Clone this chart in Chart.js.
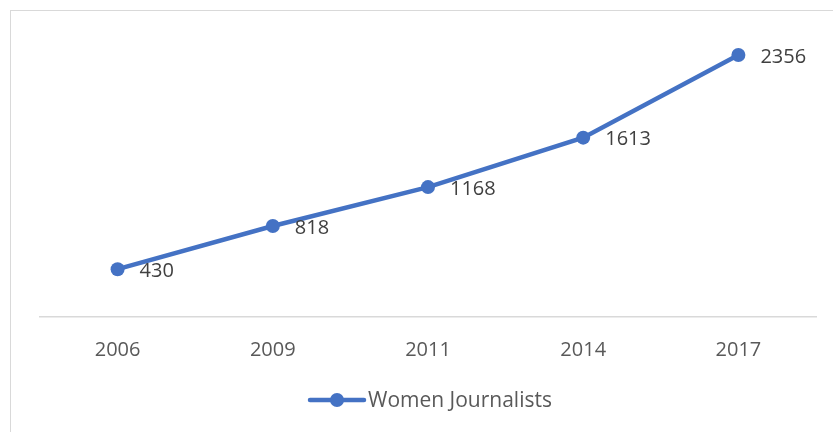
<!DOCTYPE html>
<html>
<head>
<meta charset="utf-8">
<script src="https://cdn.jsdelivr.net/npm/chart.js@4/dist/chart.umd.min.js"></script>
<style>
  html, body { margin: 0; padding: 0; background: #fff; }
  #wrap { position: relative; width: 833px; height: 432px; overflow: hidden; }
  #frame { position: absolute; left: 10px; top: 10px; width: 900px; height: 500px; border: 1.5px solid #d9d9d9; box-sizing: border-box; }
  canvas { position: absolute; left: 0; top: 0; }
</style>
</head>
<body>
<div id="wrap">
  <div id="frame"></div>
  <canvas id="c" width="833" height="432"></canvas>
</div>
<script>
const years = ['2006', '2009', '2011', '2014', '2017'];
const womenJournalists = [430, 818, 1168, 1613, 2356];
const seriesName = 'Women Journalists';

const BLUE = '#4472C4';
const FONT = "'Open Sans', 'Noto Sans', sans-serif";

// Value labels to the right of each point, plus an Excel-style legend entry
const labelsAndLegend = {
  id: 'labelsAndLegend',
  afterDatasetsDraw(chart) {
    const ctx = chart.ctx;
    const meta = chart.getDatasetMeta(0);
    const data = chart.data.datasets[0].data;
    ctx.save();
    ctx.font = '20px ' + FONT;
    ctx.fillStyle = '#404040';
    ctx.textBaseline = 'middle';
    ctx.textAlign = 'left';
    meta.data.forEach((pt, i) => {
      ctx.fillText(String(data[i]), pt.x + 22, pt.y + 2);
    });

    // legend
    const ds = chart.data.datasets[0];
    const cy = 400;
    ctx.strokeStyle = BLUE;
    ctx.lineWidth = 4.5;
    ctx.lineCap = 'round';
    ctx.beginPath();
    ctx.moveTo(310, cy);
    ctx.lineTo(364, cy);
    ctx.stroke();
    ctx.fillStyle = BLUE;
    ctx.beginPath();
    ctx.arc(337, cy, 7, 0, Math.PI * 2);
    ctx.fill();
    ctx.font = '21px ' + FONT;
    ctx.fillStyle = '#595959';
    ctx.fillText(ds.label, 368, cy + 1);
    ctx.restore();
  }
};

new Chart(document.getElementById('c'), {
  type: 'line',
  data: {
    labels: years,
    datasets: [{
      label: seriesName,
      data: womenJournalists,
      borderColor: BLUE,
      backgroundColor: BLUE,
      borderWidth: 4.5,
      pointRadius: 7,
      pointBackgroundColor: BLUE,
      pointBorderColor: BLUE,
      pointBorderWidth: 0,
      tension: 0,
      clip: false
    }]
  },
  options: {
    responsive: false,
    animation: false,
    layout: { padding: { left: 40, right: 17, top: 39, bottom: 57 } },
    plugins: { legend: { display: false }, tooltip: { enabled: false } },
    scales: {
      x: {
        offset: true,
        grid: { display: false },
        border: { display: true, color: '#d9d9d9', width: 1.5 },
        ticks: { color: '#595959', font: { family: FONT, size: 20 }, padding: 13, maxRotation: 0 }
      },
      y: {
        display: false,
        min: 0,
        max: 2500
      }
    }
  },
  plugins: [labelsAndLegend]
});
</script>
</body>
</html>
